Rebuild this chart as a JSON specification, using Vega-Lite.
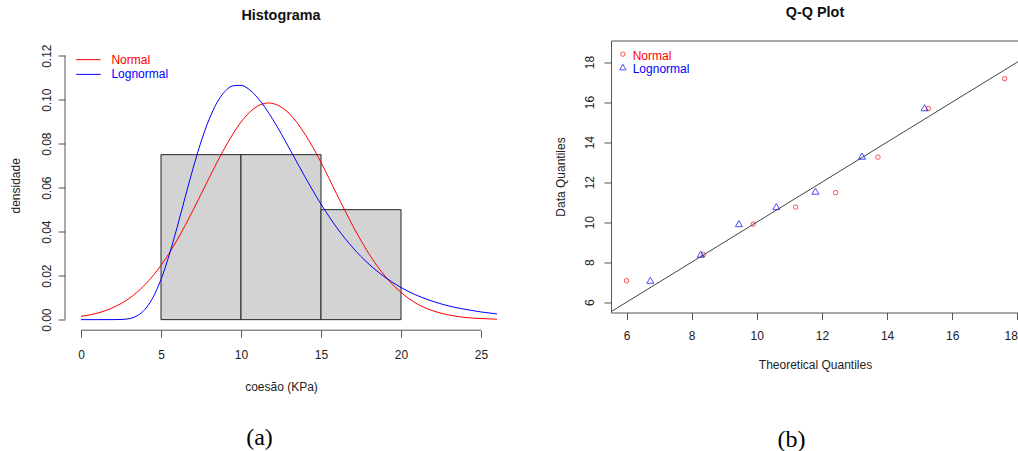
{
  "$schema": "https://vega.github.io/schema/vega-lite/v6.json",
  "background": "white",
  "padding": {"left": 9, "top": 4.5, "right": 0, "bottom": 0},
  "config": {
    "view": {"stroke": null},
    "font": "Liberation Sans",
    "axis": {
      "labelFont": "Liberation Sans", "labelFontSize": 12, "labelColor": "#222",
      "titleFont": "Liberation Sans", "titleFontSize": 12, "titleColor": "#222", "titleFontWeight": "normal",
      "tickColor": "#555", "tickSize": 7, "domain": false, "grid": false
    },
    "title": {"font": "Liberation Sans", "fontSize": 14.4, "fontWeight": "bold", "color": "#111"}
  },
  "datasets": {
    "hist": [
      {"start": 5, "end": 10, "density": 0.075},
      {"start": 10, "end": 15, "density": 0.075},
      {"start": 15, "end": 20, "density": 0.05}
    ],
    "curves": [
      {"x": 0, "density": 0.0015, "dist": "Normal"},
      {"x": 1, "density": 0.0029, "dist": "Normal"},
      {"x": 2, "density": 0.0055, "dist": "Normal"},
      {"x": 3, "density": 0.0096, "dist": "Normal"},
      {"x": 4, "density": 0.0159, "dist": "Normal"},
      {"x": 5, "density": 0.0247, "dist": "Normal"},
      {"x": 6, "density": 0.0361, "dist": "Normal"},
      {"x": 7, "density": 0.0497, "dist": "Normal"},
      {"x": 8, "density": 0.0643, "dist": "Normal"},
      {"x": 9, "density": 0.0783, "dist": "Normal"},
      {"x": 10, "density": 0.0898, "dist": "Normal"},
      {"x": 11, "density": 0.0969, "dist": "Normal"},
      {"x": 11.7, "density": 0.0985, "dist": "Normal"},
      {"x": 12.5, "density": 0.0967, "dist": "Normal"},
      {"x": 13, "density": 0.0938, "dist": "Normal"},
      {"x": 14, "density": 0.0843, "dist": "Normal"},
      {"x": 15, "density": 0.0715, "dist": "Normal"},
      {"x": 16, "density": 0.0568, "dist": "Normal"},
      {"x": 17, "density": 0.0425, "dist": "Normal"},
      {"x": 18, "density": 0.0299, "dist": "Normal"},
      {"x": 19, "density": 0.0198, "dist": "Normal"},
      {"x": 20, "density": 0.0124, "dist": "Normal"},
      {"x": 21, "density": 0.0072, "dist": "Normal"},
      {"x": 22, "density": 0.0040, "dist": "Normal"},
      {"x": 23, "density": 0.0021, "dist": "Normal"},
      {"x": 24, "density": 0.0010, "dist": "Normal"},
      {"x": 25, "density": 0.0005, "dist": "Normal"},
      {"x": 26, "density": 0.0002, "dist": "Normal"},
      {"x": 0, "density": 0, "dist": "Lognormal"},
      {"x": 1, "density": 0, "dist": "Lognormal"},
      {"x": 2, "density": 0.00001, "dist": "Lognormal"},
      {"x": 2.5, "density": 0.00007, "dist": "Lognormal"},
      {"x": 3, "density": 0.00045, "dist": "Lognormal"},
      {"x": 3.5, "density": 0.0017, "dist": "Lognormal"},
      {"x": 4, "density": 0.0047, "dist": "Lognormal"},
      {"x": 4.5, "density": 0.0101, "dist": "Lognormal"},
      {"x": 5, "density": 0.0183, "dist": "Lognormal"},
      {"x": 5.5, "density": 0.0291, "dist": "Lognormal"},
      {"x": 6, "density": 0.0418, "dist": "Lognormal"},
      {"x": 6.5, "density": 0.0554, "dist": "Lognormal"},
      {"x": 7, "density": 0.0687, "dist": "Lognormal"},
      {"x": 7.5, "density": 0.0808, "dist": "Lognormal"},
      {"x": 8, "density": 0.0909, "dist": "Lognormal"},
      {"x": 8.5, "density": 0.0987, "dist": "Lognormal"},
      {"x": 9, "density": 0.1038, "dist": "Lognormal"},
      {"x": 9.5, "density": 0.1063, "dist": "Lognormal"},
      {"x": 10, "density": 0.1065, "dist": "Lognormal"},
      {"x": 10.5, "density": 0.1047, "dist": "Lognormal"},
      {"x": 11, "density": 0.1012, "dist": "Lognormal"},
      {"x": 12, "density": 0.0909, "dist": "Lognormal"},
      {"x": 13, "density": 0.0781, "dist": "Lognormal"},
      {"x": 14, "density": 0.0649, "dist": "Lognormal"},
      {"x": 15, "density": 0.0525, "dist": "Lognormal"},
      {"x": 16, "density": 0.0417, "dist": "Lognormal"},
      {"x": 17, "density": 0.0326, "dist": "Lognormal"},
      {"x": 18, "density": 0.0252, "dist": "Lognormal"},
      {"x": 19, "density": 0.0193, "dist": "Lognormal"},
      {"x": 20, "density": 0.0146, "dist": "Lognormal"},
      {"x": 21, "density": 0.0110, "dist": "Lognormal"},
      {"x": 22, "density": 0.0083, "dist": "Lognormal"},
      {"x": 23, "density": 0.0062, "dist": "Lognormal"},
      {"x": 24, "density": 0.0047, "dist": "Lognormal"},
      {"x": 25, "density": 0.0035, "dist": "Lognormal"},
      {"x": 26, "density": 0.0026, "dist": "Lognormal"}
    ],
    "qq": [
      {"theoretical": 6.0, "sample": 7.07, "dist": "Normal"},
      {"theoretical": 8.36, "sample": 8.38, "dist": "Normal"},
      {"theoretical": 9.89, "sample": 9.9, "dist": "Normal"},
      {"theoretical": 11.19, "sample": 10.75, "dist": "Normal"},
      {"theoretical": 12.42, "sample": 11.48, "dist": "Normal"},
      {"theoretical": 13.72, "sample": 13.25, "dist": "Normal"},
      {"theoretical": 15.27, "sample": 15.68, "dist": "Normal"},
      {"theoretical": 17.61, "sample": 17.17, "dist": "Normal"},
      {"theoretical": 6.73, "sample": 7.1, "dist": "Lognormal"},
      {"theoretical": 8.28, "sample": 8.4, "dist": "Lognormal"},
      {"theoretical": 9.45, "sample": 9.93, "dist": "Lognormal"},
      {"theoretical": 10.6, "sample": 10.78, "dist": "Lognormal"},
      {"theoretical": 11.8, "sample": 11.55, "dist": "Lognormal"},
      {"theoretical": 13.23, "sample": 13.3, "dist": "Lognormal"},
      {"theoretical": 15.15, "sample": 15.72, "dist": "Lognormal"}
    ],
    "one": [{}]
  },
  "spacing": 56,
  "hconcat": [
    {
      "title": {"text": "(a)", "orient": "bottom", "anchor": "middle", "font": "Liberation Serif", "fontSize": 24, "fontWeight": "normal", "color": "#000", "dx": 6.5, "offset": 34},
      "vconcat": [
        {
          "title": {"text": "Histograma", "offset": 17.3},
          "width": 432,
          "height": 289.7,
          "layer": [
            {
              "data": {"name": "hist"},
              "mark": {"type": "rect", "fill": "#D3D3D3", "stroke": "#222", "strokeWidth": 1},
              "encoding": {
                "x": {"field": "start", "type": "quantitative", "title": "coesão (KPa)",
                      "scale": {"domain": [-1, 26], "nice": false, "zero": false},
                      "axis": {"values": [0, 5, 10, 15, 20, 25], "labelPadding": 12, "titlePadding": 21}},
                "x2": {"field": "end"},
                "y": {"field": "density", "type": "quantitative", "title": "densidade",
                      "scale": {"domain": [-0.0048, 0.1269], "nice": false, "zero": false},
                      "axis": {"values": [0, 0.02, 0.04, 0.06, 0.08, 0.1, 0.12], "format": ".2f",
                               "labelAngle": 270, "labelAlign": "center", "labelBaseline": "bottom",
                               "labelPadding": 5, "titlePadding": 18}},
                "y2": {"datum": 0}
              }
            },
            {
              "data": {"name": "curves"},
              "mark": {"type": "line", "strokeWidth": 1, "interpolate": "monotone", "clip": true},
              "encoding": {
                "x": {"field": "x", "type": "quantitative", "title": "coesão (KPa)"},
                "y": {"field": "density", "type": "quantitative", "title": "densidade"},
                "color": {"field": "dist", "type": "nominal",
                          "scale": {"domain": ["Normal", "Lognormal"], "range": ["#FF0000", "#0000FF"]},
                          "legend": null}
              }
            },
            {
              "data": {"name": "one"},
              "mark": {"type": "rule", "color": "#555", "strokeWidth": 1},
              "encoding": {"x": {"datum": 0}, "x2": {"datum": 25}, "y": {"datum": -0.0048}}
            },
            {
              "data": {"name": "one"},
              "mark": {"type": "rule", "color": "#555", "strokeWidth": 1},
              "encoding": {"x": {"datum": -1}, "y": {"datum": 0}, "y2": {"datum": 0.12}}
            },
            {
              "data": {"name": "one"},
              "mark": {"type": "rule", "color": "#FF0000", "strokeWidth": 1},
              "encoding": {"x": {"datum": -0.3}, "x2": {"datum": 1.23}, "y": {"datum": 0.1182}}
            },
            {
              "data": {"name": "one"},
              "mark": {"type": "rule", "color": "#0000FF", "strokeWidth": 1},
              "encoding": {"x": {"datum": -0.3}, "x2": {"datum": 1.23}, "y": {"datum": 0.1115}}
            },
            {
              "data": {"name": "one"},
              "mark": {"type": "text", "align": "left", "baseline": "middle", "fontSize": 12, "font": "Liberation Sans", "color": "#FF0000"},
              "encoding": {"x": {"datum": 1.9}, "y": {"datum": 0.1182}, "text": {"value": "Normal"}}
            },
            {
              "data": {"name": "one"},
              "mark": {"type": "text", "align": "left", "baseline": "middle", "fontSize": 12, "font": "Liberation Sans", "color": "#0000FF"},
              "encoding": {"x": {"datum": 1.9}, "y": {"datum": 0.1115}, "text": {"value": "Lognormal"}}
            }
          ]
        }
      ]
    },
    {
      "title": {"text": "(b)", "orient": "bottom", "anchor": "middle", "font": "Liberation Serif", "fontSize": 24, "fontWeight": "normal", "color": "#000", "dx": 5, "offset": 57},
      "vconcat": [
        {
          "title": {"text": "Q-Q Plot", "offset": 19.7},
          "width": 408,
          "height": 272,
          "view": {"stroke": "#555", "strokeWidth": 1},
          "layer": [
            {
              "data": {"name": "one"},
              "mark": {"type": "rule", "color": "#444", "strokeWidth": 1, "clip": true},
              "encoding": {"x": {"datum": 5.3}, "y": {"datum": 5.3}, "x2": {"datum": 18.3}, "y2": {"datum": 18.3}}
            },
            {
              "data": {"name": "qq"},
              "mark": {"type": "point", "filled": false, "strokeWidth": 1},
              "encoding": {
                "x": {"field": "theoretical", "type": "quantitative", "title": "Theoretical Quantiles",
                      "scale": {"domain": [5.524, 18.05], "nice": false, "zero": false},
                      "axis": {"values": [6, 8, 10, 12, 14, 16, 18], "labelPadding": 11, "titlePadding": 17.5, "labelFlush": 2}},
                "y": {"field": "sample", "type": "quantitative", "title": "Data Quantiles",
                      "scale": {"domain": [5.485, 19.08], "nice": false, "zero": false},
                      "axis": {"values": [6, 8, 10, 12, 14, 16, 18], "labelAngle": 270, "labelAlign": "center",
                               "labelBaseline": "bottom", "labelPadding": 8, "titlePadding": 16}},
                "color": {"field": "dist", "type": "nominal",
                          "scale": {"domain": ["Normal", "Lognormal"], "range": ["#FF0000", "#0000FF"]},
                          "legend": null},
                "shape": {"field": "dist", "type": "nominal",
                          "scale": {"domain": ["Normal", "Lognormal"], "range": ["circle", "triangle-up"]},
                          "legend": null},
                "size": {"field": "dist", "type": "nominal",
                         "scale": {"domain": ["Normal", "Lognormal"], "range": [20, 50]},
                         "legend": null}
              }
            },
            {
              "data": {"name": "one"},
              "mark": {"type": "point", "shape": "circle", "filled": false, "size": 20, "color": "#FF0000", "strokeWidth": 1},
              "encoding": {"x": {"datum": 5.89}, "y": {"datum": 18.4}}
            },
            {
              "data": {"name": "one"},
              "mark": {"type": "point", "shape": "triangle-up", "filled": false, "size": 40, "color": "#0000FF", "strokeWidth": 1},
              "encoding": {"x": {"datum": 5.89}, "y": {"datum": 17.75}}
            },
            {
              "data": {"name": "one"},
              "mark": {"type": "text", "align": "left", "baseline": "middle", "fontSize": 12, "font": "Liberation Sans", "color": "#FF0000"},
              "encoding": {"x": {"datum": 6.19}, "y": {"datum": 18.33}, "text": {"value": "Normal"}}
            },
            {
              "data": {"name": "one"},
              "mark": {"type": "text", "align": "left", "baseline": "middle", "fontSize": 12, "font": "Liberation Sans", "color": "#0000FF"},
              "encoding": {"x": {"datum": 6.19}, "y": {"datum": 17.68}, "text": {"value": "Lognormal"}}
            }
          ]
        }
      ]
    }
  ]
}
